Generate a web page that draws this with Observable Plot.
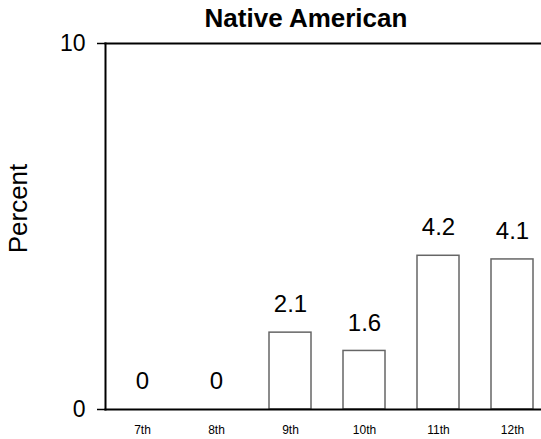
<!DOCTYPE html>
<html>
<head>
<meta charset="utf-8">
<script src="https://cdn.jsdelivr.net/npm/d3@7"></script>
<script src="https://cdn.jsdelivr.net/npm/@observablehq/plot@0.6"></script>
<style>
  html, body { margin: 0; padding: 0; background: #fff; }
  #chart { position: relative; width: 541px; height: 439px; }
  #title { position: absolute; left: 0; top: 3px; width: 541px; padding-left: 71px; box-sizing: border-box; text-align: center; font: bold 26px "Liberation Sans", Arial, sans-serif; line-height: 30px; }
</style>
</head>
<body>
<div id="chart"><div id="title">Native American</div></div>
<script>
const grades = ["7th", "8th", "9th", "10th", "11th", "12th"];
const percents = [0, 0, 2.1, 1.6, 4.2, 4.1];
const yTicks = [0, 10];
const yLabel = "Percent";

const data = grades.map((g, i) => ({grade: g, value: percents[i]}));
const font = "'Liberation Sans', Arial, sans-serif";

const plot = Plot.plot({
  width: 541,
  height: 439,
  marginTop: 43,
  marginBottom: 30,
  marginLeft: 105,
  marginRight: 0,
  style: {fontFamily: font, background: "transparent", overflow: "visible"},
  x: {domain: grades, range: [105, 549], paddingInner: 0.43, paddingOuter: 0.215, label: null},
  y: {domain: [0, 10], label: null},
  marks: [
    Plot.barY(data, {x: "grade", y: "value", fill: "white", stroke: "#666", strokeWidth: 1.5}),
    Plot.frame({anchor: "top", stroke: "black", strokeWidth: 2}),
    Plot.frame({anchor: "left", stroke: "black", strokeWidth: 2}),
    Plot.frame({anchor: "bottom", stroke: "black", strokeWidth: 2}),
    Plot.axisY({ticks: yTicks, tickSize: 8, tickPadding: 12, fontSize: 23, stroke: "black", strokeWidth: 1.5, label: null, tickFormat: d => d}),
    Plot.axisX({tickSize: 0, tickPadding: 16, fontSize: 12, letterSpacing: "0.5px", label: null}),
    Plot.text(data, {x: "grade", y: "value", text: d => String(d.value), dy: -28, fontSize: 24, fill: "black"}),
    Plot.text([yLabel], {frameAnchor: "left", textAnchor: "middle", lineAnchor: "middle", rotate: -90, dx: -87, dy: -18, fontSize: 26, fill: "black"})
  ]
});
document.getElementById("chart").appendChild(plot);
</script>
</body>
</html>
